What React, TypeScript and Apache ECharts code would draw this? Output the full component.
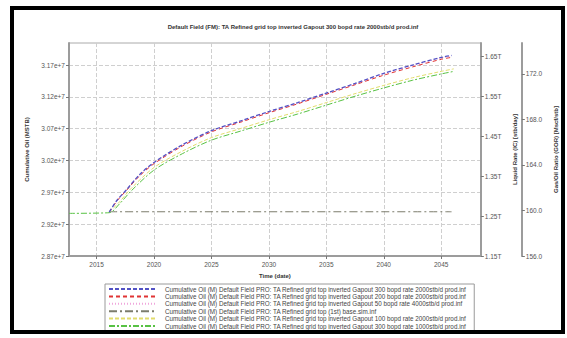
import React, { useEffect, useRef } from "react";
import * as echarts from "echarts";

// Chart texts
const chartTitle =
  "Default Field (FM): TA Refined grid top inverted Gapout 300 bopd rate 2000stb/d prod.inf";
const xAxisTitle = "Time (date)";
const leftAxisTitle = "Cumulative Oil (MSTB)";
const rateAxisTitle = "Liquid Rate (IC) [stb/day]";
const gorAxisTitle = "Gas/Oil Ratio (GOR) [Mscf/stb]";

// Tick positions
const xTicks = [2015, 2020, 2025, 2030, 2035, 2040, 2045];
const leftTicks = [2.87, 2.92, 2.97, 3.02, 3.07, 3.12, 3.17]; // x 1e7
const rateTicks = [1.15, 1.25, 1.35, 1.45, 1.55, 1.65];
const gorTicks = [156, 160, 164, 168, 172];

// Series names
const seriesNames = [
  "Cumulative Oil (M) Default Field PRO: TA Refined grid top inverted Gapout 300 bopd rate 2000stb/d prod.inf",
  "Cumulative Oil (M) Default Field PRO: TA Refined grid top inverted Gapout 200 bopd rate 2000stb/d prod.inf",
  "Cumulative Oil (M) Default Field PRO: TA Refined grid top inverted Gapout 50 bopd rate 4000stb/d prod.inf",
  "Cumulative Oil (M) Default Field PRO: TA Refined grid top (1st) base.sim.inf",
  "Cumulative Oil (M) Default Field PRO: TA Refined grid top inverted Gapout 100 bopd rate 2000stb/d prod.inf",
  "Cumulative Oil (M) Default Field PRO: TA Refined grid top inverted Gapout 300 bopd rate 1000stb/d prod.inf",
];

// Forecast cases (cumulative oil, x 1e7)
const upperYears = [2016.1, 2016.8, 2017.6, 2018.7, 2020, 2022.5, 2025, 2027.5, 2030, 2032.5, 2035, 2037.5, 2040, 2042.5, 2045, 2045.9];
const oilBlue = [2.939, 2.958, 2.974, 2.997, 3.017, 3.045, 3.067, 3.082, 3.097, 3.111, 3.126, 3.141, 3.157, 3.17, 3.182, 3.185];
const oilRed = [2.939, 2.957, 2.973, 2.995, 3.015, 3.043, 3.065, 3.08, 3.095, 3.109, 3.124, 3.139, 3.154, 3.167, 3.179, 3.182];
const oilPink = [2.939, 2.958, 2.974, 2.996, 3.016, 3.044, 3.066, 3.081, 3.096, 3.11, 3.125, 3.14, 3.156, 3.169, 3.181, 3.184];

const baseYears = [2016.1, 2045.9];
const oilBase = [2.9395, 2.9395];

const lowerYears = [2012.6, 2016.1, 2017, 2018, 2020, 2022.5, 2025, 2027.5, 2030, 2032.5, 2035, 2037.5, 2040, 2042.5, 2045, 2046.1];
const oilGreen = [2.937, 2.938, 2.952, 2.972, 3.005, 3.031, 3.052, 3.066, 3.08, 3.093, 3.107, 3.121, 3.134, 3.146, 3.156, 3.16];
const yellowYears = [2016.1, 2017, 2018, 2020, 2022.5, 2025, 2027.5, 2030, 2032.5, 2035, 2037.5, 2040, 2042.5, 2045, 2046.1];
const oilYellow = [2.939, 2.955, 2.976, 3.009, 3.035, 3.056, 3.07, 3.084, 3.097, 3.111, 3.125, 3.138, 3.15, 3.16, 3.164];

const pairs = (xs: number[], ys: number[]) => xs.map((x, i) => [x, ys[i]]);

const FONT = "Liberation Sans, Arial, sans-serif";

export default function App() {
  const ref = useRef<HTMLDivElement>(null);

  useEffect(() => {
    document.body.style.margin = "0";
    const chart = echarts.init(ref.current!, null, { renderer: "svg" });

    const styles = [
      { color: "#5252c4", type: [4, 2], width: 1.3 },
      { color: "#e03434", type: [4, 3], width: 1 },
      { color: "#f0a6dc", type: [1, 2], width: 1 },
      { color: "#7c7c6c", type: [8, 3, 2, 3], width: 1 },
      { color: "#e2dc6c", type: [4, 2], width: 1 },
      { color: "#58c244", type: [6, 2, 2, 2], width: 1 },
    ];
    const datasets = [
      pairs(upperYears, oilBlue),
      pairs(upperYears, oilRed),
      pairs(upperYears, oilPink),
      pairs(baseYears, oilBase),
      pairs(yellowYears, oilYellow),
      pairs(lowerYears, oilGreen),
    ];
    const drawOrder = [3, 4, 5, 2, 1, 0];

    const axisLineStyle = { color: "#9c9c9c", width: 2 };
    const labelStyle = { fontSize: 6.5, color: "#555", fontFamily: FONT };
    const nameStyle = { fontSize: 6, color: "#333", fontWeight: "bold" as const, fontFamily: FONT };

    chart.setOption({
      animation: false,
      backgroundColor: "#fff",
      textStyle: { fontFamily: FONT },
      title: {
        text: chartTitle,
        left: 288,
        textAlign: "center",
        top: 19,
        textStyle: { fontSize: 6, fontWeight: "bold", color: "#333", fontFamily: FONT },
      },
      grid: {
        left: 69,
        right: 80,
        top: 43,
        bottom: 82,
        show: true,
        borderColor: "#aaa",
        borderWidth: 1,
        backgroundColor: "transparent",
      },
      legend: {
        orient: "vertical",
        left: 105,
        top: 284,
        padding: [2, 8, 2, 3],
        borderColor: "#9a9a9a",
        borderWidth: 1,
        itemWidth: 48,
        itemHeight: 5,
        itemGap: 1.4,
        itemStyle: { opacity: 0 },
        textStyle: { fontSize: 6.3, color: "#444", fontFamily: FONT, lineHeight: 6, padding: [0, 0, 0, 3] },
        data: seriesNames,
      },
      xAxis: {
        type: "value",
        min: 2012.6,
        max: 2048.45,
        name: xAxisTitle,
        nameLocation: "middle",
        nameGap: 17,
        nameTextStyle: nameStyle,
        axisLine: { lineStyle: axisLineStyle },
        axisTick: { customValues: xTicks, length: 3, lineStyle: { color: "#777" } },
        axisLabel: { customValues: xTicks, formatter: (v: number) => String(v), margin: 5, ...labelStyle },
        splitLine: { show: true, lineStyle: { color: "#cfcfcf", type: [4, 2] } },
      },
      yAxis: [
        {
          type: "value",
          position: "left",
          min: 2.87,
          max: 3.2046,
          name: leftAxisTitle,
          nameLocation: "middle",
          nameGap: 35,
          nameTextStyle: nameStyle,
          axisLine: { show: true, lineStyle: axisLineStyle },
          axisTick: { show: true, customValues: leftTicks, length: 3, lineStyle: { color: "#777" } },
          axisLabel: {
            customValues: leftTicks,
            formatter: (v: number) => v.toFixed(2) + "e+7",
            margin: 4,
            ...labelStyle,
          },
          splitLine: { show: true, lineStyle: { color: "#cfcfcf", type: [4, 2] } },
        },
        {
          type: "value",
          position: "right",
          min: 1.15,
          max: 1.684,
          name: rateAxisTitle,
          nameLocation: "middle",
          nameGap: 29,
          nameTextStyle: nameStyle,
          axisLine: { show: true, lineStyle: axisLineStyle },
          axisTick: { show: true, customValues: rateTicks, length: 3, lineStyle: { color: "#777" } },
          axisLabel: {
            customValues: rateTicks,
            formatter: (v: number) => v.toFixed(2) + "T",
            margin: 4,
            ...labelStyle,
          },
          splitLine: { show: false },
        },
        {
          type: "value",
          position: "right",
          offset: 41,
          min: 156,
          max: 174.7,
          name: gorAxisTitle,
          nameLocation: "middle",
          nameGap: 27,
          nameTextStyle: nameStyle,
          axisLine: { show: true, lineStyle: axisLineStyle },
          axisTick: { show: true, customValues: gorTicks, length: 3, lineStyle: { color: "#777" } },
          axisLabel: {
            customValues: gorTicks,
            formatter: (v: number) => v.toFixed(1),
            margin: 4,
            ...labelStyle,
          },
          splitLine: { show: false },
        },
      ],
      series: drawOrder.map((i) => ({
        name: seriesNames[i],
        type: "line",
        yAxisIndex: 0,
        data: datasets[i],
        symbol: "none",
        smooth: 0.3,
        lineStyle: styles[i],
        itemStyle: { color: styles[i].color },
      })),
      graphic: [
        {
          type: "rect",
          shape: { x: 12, y: 8, width: 551, height: 324 },
          style: { fill: "none", stroke: "#000", lineWidth: 4 },
          silent: true,
          z: 100,
        },
      ],
    });

    return () => chart.dispose();
  }, []);

  return (
    <div
      ref={ref}
      style={{ position: "fixed", left: 0, top: 0, width: 567, height: 338 }}
    />
  );
}
